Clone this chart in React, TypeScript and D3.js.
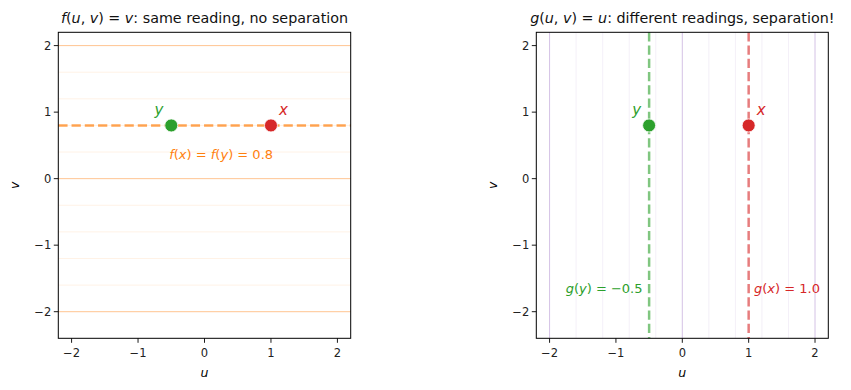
import React from "react";
import * as d3 from "d3";

const W = 851;
const H = 390;
const FONT = "DejaVu Sans, sans-serif";

// axes frames in pixels
const PANELS = [
  { key: "f", left: 58.3, top: 32.3, width: 292.4, height: 306 },
  { key: "g", left: 536.3, top: 32.3, width: 292, height: 306 },
];
const X_DOMAIN = [-2.2, 2.2];
const Y_DOMAIN = [-2.4, 2.2];
const TICKS = [-2, -1, 0, 1, 2];

// level lines of f (horizontal) and g (vertical)
const LEVELS = [-2, -1.6, -1.2, -0.8, -0.4, 0, 0.4, 0.8, 1.2, 1.6, 2];
const MAJOR_LEVELS = [-2, 0, 2];

// the two points
const POINTS = [
  { name: "x", u: 1.0, v: 0.8, color: "#d62728" },
  { name: "y", u: -0.5, v: 0.8, color: "#2ca02c" },
];
const F_VALUE = 0.8;

const ORANGE = "#ff7f0e";
const PURPLE = "#9467bd";

function MathText({ parts, ...rest }: any) {
  // parts: [text, italic?]
  return (
    <text fontFamily={FONT} {...rest}>
      {parts.map((p: any, i: number) => (
        <tspan key={i} fontStyle={p[1] ? "italic" : "normal"}>
          {p[0]}
        </tspan>
      ))}
    </text>
  );
}

function Axes({ panel, children, title }: any) {
  const x = d3.scaleLinear().domain(X_DOMAIN).range([0, panel.width]);
  const y = d3.scaleLinear().domain(Y_DOMAIN).range([panel.height, 0]);
  return (
    <g transform={`translate(${panel.left},${panel.top})`}>
      {children(x, y)}
      <rect width={panel.width} height={panel.height} fill="none" stroke="#000" strokeWidth={1} />
      {TICKS.map((t) => (
        <g key={"x" + t} transform={`translate(${x(t)},${panel.height})`}>
          <line y2={4.5} stroke="#000" strokeWidth={0.9} />
          <text y={19} textAnchor="middle" fontFamily={FONT} fontSize={11.5} fill="#222">
            {t < 0 ? "\u2212" + Math.abs(t) : t}
          </text>
        </g>
      ))}
      {TICKS.map((t) => (
        <g key={"y" + t} transform={`translate(0,${y(t)})`}>
          <line x2={-4.5} stroke="#000" strokeWidth={0.9} />
          <text x={-7} dy="0.35em" textAnchor="end" fontFamily={FONT} fontSize={11.5} fill="#222">
            {t < 0 ? "\u2212" + Math.abs(t) : t}
          </text>
        </g>
      ))}
      <text x={panel.width / 2} y={panel.height + 39} textAnchor="middle" fontFamily={FONT} fontSize={12.5} fontStyle="italic">
        u
      </text>
      <text
        transform={`translate(${-39},${panel.height / 2}) rotate(-90)`}
        textAnchor="middle"
        fontFamily={FONT}
        fontSize={12.5}
        fontStyle="italic"
      >
        v
      </text>
      <MathText x={panel.width / 2} y={-9} textAnchor="middle" fontSize={14.3} fill="#111" parts={title} />
    </g>
  );
}

function pointsLayer(x: any, y: any) {
  return POINTS.map((p) => (
    <g key={p.name}>
      <circle cx={x(p.u)} cy={y(p.v)} r={6.5} fill={p.color} stroke="#fff" strokeWidth={0.8} />
      <text
        x={p.name === "x" ? x(p.u) + 8 : x(p.u) - 8}
        y={y(p.v) - 10}
        textAnchor={p.name === "x" ? "start" : "end"}
        fontFamily={FONT}
        fontStyle="italic"
        fontSize={15}
        fill={p.color}
      >
        {p.name}
      </text>
    </g>
  ));
}

export default function App() {
  const [pf, pg] = PANELS;
  return (
    <svg width={W} height={H} style={{ position: "absolute", left: 0, top: 0, background: "#fff" }}>
      <Axes
        panel={pf}
        title={[["f", 1], ["(", 0], ["u", 1], [", ", 0], ["v", 1], [") = ", 0], ["v", 1], [": same reading, no separation", 0]]}
      >
        {(x: any, y: any) => (
          <g>
            {LEVELS.map((l) => (
              <line
                key={l}
                x1={0}
                x2={pf.width}
                y1={y(l)}
                y2={y(l)}
                stroke={ORANGE}
                strokeOpacity={MAJOR_LEVELS.includes(l) ? 0.45 : 0.1}
                strokeWidth={1}
              />
            ))}
            <line
              x1={0}
              x2={pf.width}
              y1={y(F_VALUE)}
              y2={y(F_VALUE)}
              stroke={ORANGE}
              strokeOpacity={0.7}
              strokeWidth={2.5}
              strokeDasharray="9.25,4"
            />
            {pointsLayer(x, y)}
            <MathText
              x={x(0.25)}
              y={y(0.3)}
              textAnchor="middle"
              fontSize={13}
              fill={ORANGE}
              parts={[["f", 1], ["(", 0], ["x", 1], [") = ", 0], ["f", 1], ["(", 0], ["y", 1], [") = 0.8", 0]]}
            />
          </g>
        )}
      </Axes>
      <Axes
        panel={pg}
        title={[["g", 1], ["(", 0], ["u", 1], [", ", 0], ["v", 1], [") = ", 0], ["u", 1], [": different readings, separation!", 0]]}
      >
        {(x: any, y: any) => (
          <g>
            {LEVELS.map((l) => (
              <line
                key={l}
                x1={x(l)}
                x2={x(l)}
                y1={0}
                y2={pg.height}
                stroke={PURPLE}
                strokeOpacity={MAJOR_LEVELS.includes(l) ? 0.4 : 0.1}
                strokeWidth={1}
              />
            ))}
            {POINTS.map((p) => (
              <line
                key={"d" + p.name}
                x1={x(p.u)}
                x2={x(p.u)}
                y1={0}
                y2={pg.height}
                stroke={p.color}
                strokeOpacity={0.6}
                strokeWidth={2.5}
                strokeDasharray="9.25,4"
              />
            ))}
            {pointsLayer(x, y)}
            <MathText
              x={x(-0.6)}
              y={y(-1.72)}
              textAnchor="end"
              fontSize={13}
              fill="#2ca02c"
              parts={[["g", 1], ["(", 0], ["y", 1], [") = \u22120.5", 0]]}
            />
            <MathText
              x={x(1.08)}
              y={y(-1.72)}
              textAnchor="start"
              fontSize={13}
              fill="#d62728"
              parts={[["g", 1], ["(", 0], ["x", 1], [") = 1.0", 0]]}
            />
          </g>
        )}
      </Axes>
    </svg>
  );
}
